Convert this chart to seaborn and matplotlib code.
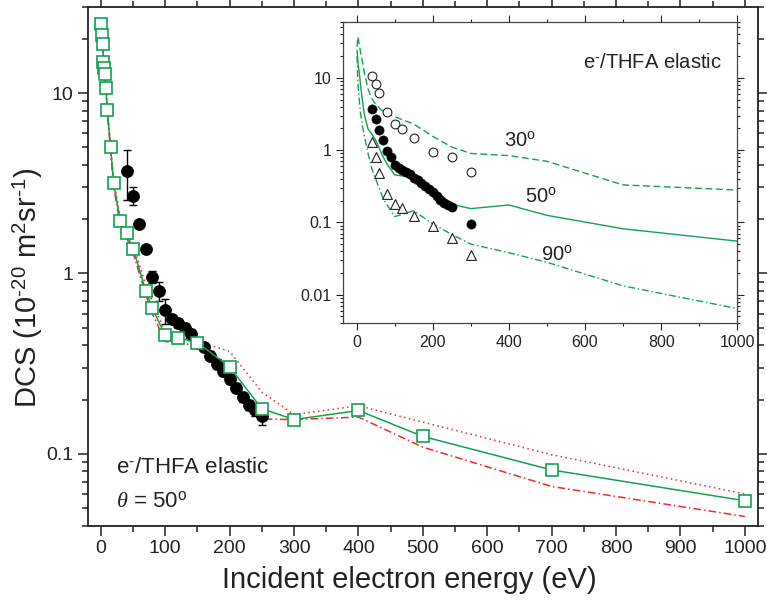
import numpy as np
import pandas as pd
import seaborn as sns
import matplotlib.pyplot as plt
from matplotlib.ticker import LogLocator, MultipleLocator, NullFormatter, FixedLocator

# theory, 50 deg (green squares) plus the two red bounding curves
energy = [1, 2, 3, 4, 5, 6, 8, 10, 15, 20, 30, 40, 50, 70, 80, 100, 120, 150,
          200, 250, 300, 400, 500, 700, 1000]
dcs_50 = [24.2, 21.1, 18.7, 14.9, 13.8, 12.8, 10.6, 8.1, 5.0, 3.16, 1.96, 1.67,
          1.37, 0.80, 0.64, 0.454, 0.439, 0.414, 0.303, 0.178, 0.155, 0.174,
          0.125, 0.0815, 0.055]
dcs_50_upper = [25, 21.5, 19, 15.2, 14, 13, 10.8, 8.3, 5.2, 3.3, 2.05, 1.75,
                1.45, 0.86, 0.70, 0.47, 0.45, 0.42, 0.37, 0.22, 0.165, 0.185,
                0.150, 0.099, 0.060]
dcs_50_lower = [23.5, 20.5, 18.2, 14.5, 13.5, 12.5, 10.3, 7.8, 4.8, 3.0, 1.88,
                1.58, 1.30, 0.76, 0.60, 0.42, 0.41, 0.40, 0.26, 0.156, 0.155,
                0.16, 0.109, 0.066, 0.045]

# measured 50 deg
exp_energy = [40, 50, 60, 70, 80, 90, 100, 110, 120, 130, 140, 150, 160, 170,
              180, 190, 200, 210, 220, 230, 240, 250]
exp_dcs = [3.7, 2.70, 1.88, 1.36, 0.96, 0.80, 0.625, 0.56, 0.53, 0.50, 0.46,
           0.414, 0.39, 0.35, 0.316, 0.288, 0.261, 0.233, 0.206, 0.187, 0.174,
           0.163]
exp_err = [1.15, 0.30, 0.06, 0.05, 0.075, 0.095, 0.10, 0.03, 0.03, 0.03, 0.03,
           0.025, 0.02, 0.02, 0.02, 0.017, 0.016, 0.014, 0.012, 0.011, 0.012,
           0.019]

# inset: theory at 30 and 90 deg
inset_energy = [1, 3, 5, 10, 15, 20, 30, 40, 50, 70, 100, 150, 200, 250, 300,
                400, 500, 700, 1000]
dcs_30 = [27, 37, 33, 23, 17, 12, 7.0, 5.2, 4.3, 3.4, 2.9, 2.3, 1.55, 1.1, 0.9,
          0.84, 0.70, 0.33, 0.28]
dcs_90 = [20, 9, 6.5, 3.3, 2.2, 1.6, 0.9, 0.55, 0.4, 0.21, 0.12, 0.145, 0.095,
          0.068, 0.05, 0.038, 0.028, 0.0132, 0.0064]

# inset: measurements
exp_angle_energy = [40, 50, 60, 80, 100, 120, 150, 200, 250, 300]
exp_30 = [10.7, 8.3, 6.2, 3.37, 2.33, 1.99, 1.45, 0.95, 0.81, 0.50]
exp_90 = [1.30, 0.81, 0.49, 0.248, 0.18, 0.16, 0.121, 0.088, 0.061, 0.035]
exp_50_extra_energy = [300]
exp_50_extra = [0.096]

green = "#14a050"
red = "#ee2a2a"
ink = "#222222"

sns.set_style("ticks")
plt.rcParams["font.family"] = ["Liberation Sans", "DejaVu Sans"]
plt.rcParams["mathtext.fontset"] = "custom"
plt.rcParams["mathtext.rm"] = "Liberation Sans"
plt.rcParams["mathtext.it"] = "Liberation Serif:italic"

theory = pd.DataFrame({"E": energy, "mid": dcs_50, "up": dcs_50_upper,
                       "low": dcs_50_lower})
meas = pd.DataFrame({"E": exp_energy, "dcs": exp_dcs, "err": exp_err})

fig = plt.figure(figsize=(7.67, 6.01), dpi=100)
ax = fig.add_axes([0.1147, 0.1253, 0.8732, 0.8631])

sns.lineplot(data=theory, x="E", y="up", ax=ax, color=red, lw=1.1,
             linestyle=(0, (1, 2.2)), zorder=2)
sns.lineplot(data=theory, x="E", y="low", ax=ax, color=red, lw=1.1,
             linestyle=(0, (5, 2, 1, 2)), zorder=2)
ax.errorbar(meas["E"], meas["dcs"], yerr=meas["err"], fmt="none",
            ecolor="black", elinewidth=1, capsize=3, capthick=1, zorder=3)
sns.scatterplot(data=meas, x="E", y="dcs", ax=ax, color="black", s=75,
                edgecolor="black", linewidth=0.5, zorder=4)
sns.lineplot(data=theory, x="E", y="mid", ax=ax, color=green, lw=1.1,
             marker="s", markersize=8, markerfacecolor="white",
             markeredgecolor=green, markeredgewidth=1.2, zorder=5)

ax.set_yscale("log")
ax.set_xlim(-20, 1020)
ax.set_ylim(0.04, 30)
ax.xaxis.set_major_locator(MultipleLocator(100))
ax.xaxis.set_minor_locator(MultipleLocator(50))
ax.yaxis.set_major_locator(FixedLocator([0.1, 1, 10]))
ax.yaxis.set_major_formatter(plt.FuncFormatter(lambda v, p: f"{v:g}"))
ax.yaxis.set_minor_locator(LogLocator(base=10, subs=np.arange(2, 10)))
ax.yaxis.set_minor_formatter(NullFormatter())
ax.tick_params(which="both", direction="out", top=True, right=True,
               width=1.1, labelsize=14, colors=ink)
ax.tick_params(which="major", length=7)
ax.tick_params(which="minor", length=4)
for s in ax.spines.values():
    s.set_linewidth(1.3)
    s.set_color(ink)

ax.set_xlabel("Incident electron energy (eV)", fontsize=21, color=ink)
ax.set_ylabel("DCS (10$^{\\text{-}20}$ m$^2$sr$^{\\text{-}1}$)", fontsize=21,
              color=ink)
ax.yaxis.set_label_coords(-0.064, 0.458)
ax.xaxis.set_label_coords(0.48, -0.078)

ax.text(23, 0.078, "e$^{\\text{-}}$/THFA elastic", fontsize=16, color=ink)
ax.text(23, 0.0504, "$\\theta$ = 50$^{\\mathrm{o}}$", fontsize=16, color=ink)

# inset
ins = fig.add_axes([0.4476, 0.462, 0.5137, 0.5019])
ins.set_facecolor("white")
inset_df = pd.DataFrame({"E": inset_energy, "d30": dcs_30, "d90": dcs_90})
sns.lineplot(data=inset_df, x="E", y="d30", ax=ins, color=green, lw=1.0,
             linestyle=(0, (5, 2.5)))
sns.lineplot(data=theory, x="E", y="mid", ax=ins, color=green, lw=1.0)
sns.lineplot(data=inset_df, x="E", y="d90", ax=ins, color=green, lw=1.0,
             linestyle=(0, (5, 2, 1, 2)))
sns.scatterplot(x=exp_angle_energy, y=exp_30, ax=ins, marker="o", s=40,
                facecolor="white", edgecolor=ink, linewidth=0.8, zorder=4)
sns.scatterplot(x=exp_angle_energy, y=exp_90, ax=ins, marker="^", s=50,
                facecolor="white", edgecolor=ink, linewidth=0.8, zorder=4)
sns.scatterplot(x=exp_energy + exp_50_extra_energy, y=exp_dcs + exp_50_extra,
                ax=ins, marker="o", s=45, color="black", edgecolor="black",
                linewidth=0.3, zorder=5)

ins.set_yscale("log")
ins.set_xlim(-35, 1000)
ins.set_ylim(0.004, 60)
ins.xaxis.set_major_locator(MultipleLocator(200))
ins.xaxis.set_minor_locator(MultipleLocator(100))
ins.yaxis.set_major_locator(FixedLocator([0.01, 0.1, 1, 10]))
ins.yaxis.set_major_formatter(plt.FuncFormatter(lambda v, p: f"{v:g}"))
ins.yaxis.set_minor_locator(LogLocator(base=10, subs=np.arange(2, 10)))
ins.yaxis.set_minor_formatter(NullFormatter())
ins.tick_params(which="both", direction="out", top=True, right=True,
                width=0.8, labelsize=11.5, colors=ink)
ins.tick_params(which="major", length=5)
ins.tick_params(which="minor", length=2.5)
for s in ins.spines.values():
    s.set_linewidth(0.9)
    s.set_color("#444444")
ins.set_xlabel("")
ins.set_ylabel("")

ins.text(960, 13.5, "e$^{\\text{-}}$/THFA elastic", fontsize=14.5, ha="right",
         color=ink)
ins.text(387, 1.1, "30$^{\\mathrm{o}}$", fontsize=14.5, color=ink)
ins.text(441, 0.19, "50$^{\\mathrm{o}}$", fontsize=14.5, color=ink)
ins.text(484, 0.029, "90$^{\\mathrm{o}}$", fontsize=14.5, color=ink)

fig.savefig("out.png", dpi=100)
